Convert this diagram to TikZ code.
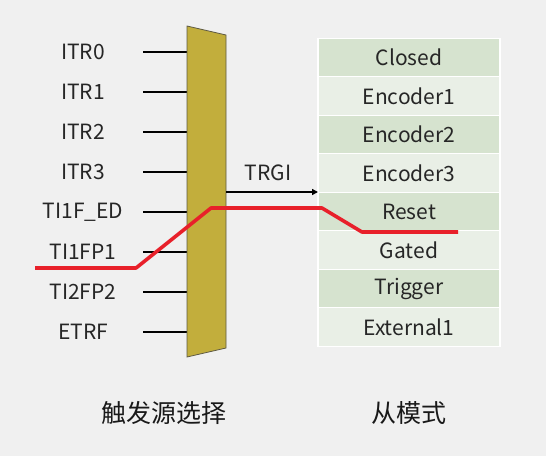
\documentclass[tikz,border=0pt]{standalone}
\usepackage{fontspec}
\setmainfont{Noto Sans CJK SC}
\usetikzlibrary{arrows.meta}
\definecolor{bg}{HTML}{F0F0F0}
\definecolor{muxfill}{HTML}{C2AE3C}
\definecolor{muxedge}{HTML}{5E5A44}
\definecolor{rowdark}{HTML}{D6E3CF}
\definecolor{rowlight}{HTML}{E9EFE6}
\definecolor{redline}{HTML}{E8202A}
\begin{document}
\begin{tikzpicture}[x=1pt,y=-1pt,
  lbl/.style={font=\fontsize{21}{24}\selectfont, inner sep=0pt, text=black!85},
  inline/.style={line width=2.2pt, black},
  rowd/.style={fill=rowdark, draw=white, line width=1.2pt, minimum width=182pt, minimum height=38.5pt, inner sep=0pt, font=\fontsize{21}{24}\selectfont, text=black!85},
  rowl/.style={rowd, fill=rowlight},
  cjk/.style={font=\fontsize{25}{28}\selectfont, inner sep=0pt, text=black!90}]
\fill[bg] (0,0) rectangle (546,456);
\useasboundingbox (0,0) rectangle (546,456);
% inputs
\foreach \t [count=\i from 0] in {ITR0,ITR1,ITR2,ITR3,TI1F\_ED,TI1FP1,TI2FP2,ETRF}{
  \node[lbl] (in\i) at (83,{52+40*\i}) {\t};
  \coordinate (s\i) at (143,{52+40*\i});
  \coordinate (e\i) at (187,{52+40*\i});
  \draw[inline] (s\i) -- (e\i);
}
% mux
\coordinate (m1) at (187,26);
\coordinate (m2) at (226,35);
\coordinate (m3) at (226,348);
\coordinate (m4) at (187,357);
\draw[fill=muxfill, draw=muxedge, line width=0.8pt] (m1) -- (m2) -- (m3) -- (m4) -- cycle;
% table
\foreach \t/\s [count=\i from 0] in {Closed/rowd,Encoder1/rowl,Encoder2/rowd,Encoder3/rowl,Reset/rowd,Gated/rowl,Trigger/rowd,External1/rowl}{
  \node[\s] (r\i) at (409,{57.5+38.5*\i}) {\t};
}
% TRGI arrow
\coordinate (ta) at (226,192);
\coordinate (tb) at (318,192);
\draw[line width=1.6pt, -{Triangle[length=6pt,width=6pt]}] (ta) -- (tb);
\node[lbl] (trgi) at (268,173) {TRGI};
% red path
\coordinate (p0) at (35,268);
\coordinate (p1) at (136,268);
\coordinate (p2) at (211,208);
\coordinate (p3) at (322,208);
\coordinate (p4) at (362,232);
\coordinate (p5) at (458,232);
\draw[redline, line width=3.6pt, line join=round] (p0) -- (p1) -- (p2) -- (p3) -- (p4) -- (p5);
% captions
\node[cjk] (c1) at (164,413) {触发源选择};
\node[cjk] (c2) at (409,413) {从模式};
\end{tikzpicture}
\end{document}
